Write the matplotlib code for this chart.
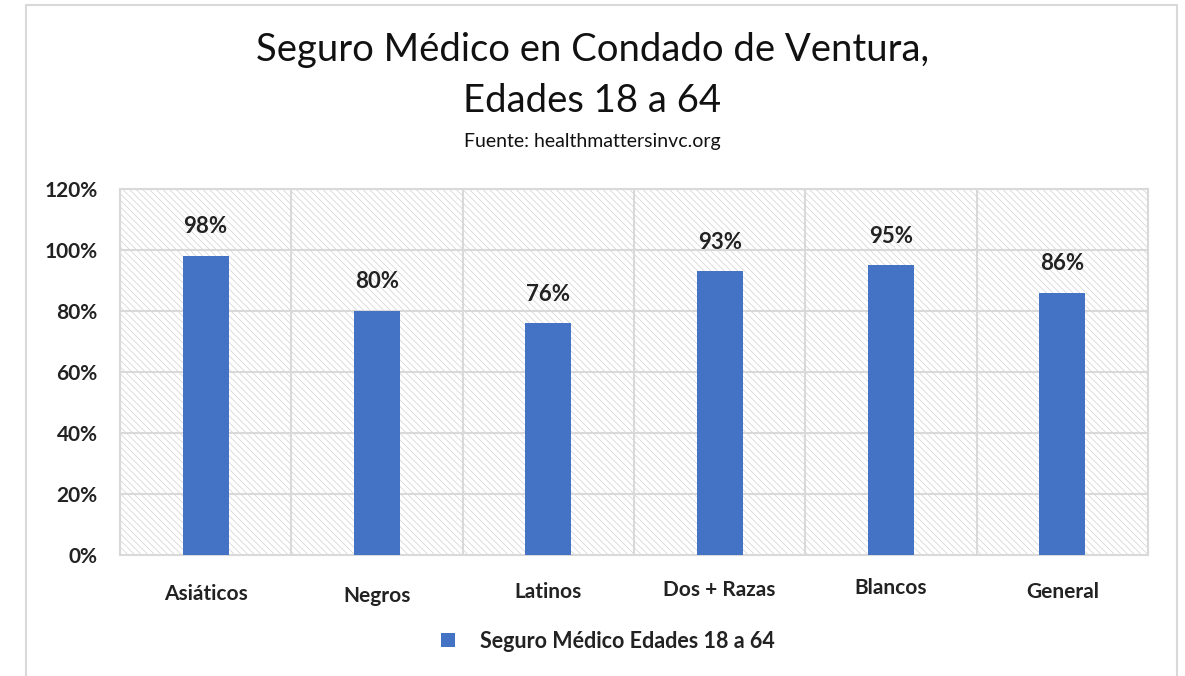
import matplotlib.pyplot as plt
from matplotlib.patches import Rectangle
from matplotlib.transforms import offset_copy

plt.rcParams['font.family'] = ['Lato', 'DejaVu Sans']
plt.rcParams['hatch.linewidth'] = 0.5

categorias = ['Asiáticos', 'Negros', 'Latinos', 'Dos + Razas', 'Blancos', 'General']
valores = [98, 80, 76, 93, 95, 86]
serie = 'Seguro Médico Edades 18 a 64'
# the original labels sit at slightly different heights (pixels)
desfase = [0, -2, 2, 4, 6, 2]

azul = '#4472C4'
gris = '#d9d9d9'
texto = '#222222'

fig = plt.figure(figsize=(11.85, 6.76), dpi=100)
fig.patches.append(Rectangle((26 / 1185, -0.1), 1151 / 1185, 1.1 - 5 / 676,
                             transform=fig.transFigure, fill=False,
                             edgecolor=gris, lw=1.5))

ax = fig.add_axes([120 / 1185, 1 - 555 / 676, 1028 / 1185, 366 / 676])

fondo = Rectangle((0, 0), 1, 1, transform=ax.transAxes, facecolor='white',
                  edgecolor='#d2d2d2', hatch='\\\\\\\\\\', lw=0, zorder=0)
ax.add_patch(fondo)

x = list(range(len(categorias)))
ax.bar(x, valores, width=0.27, color=azul, zorder=3)

ax.set_xlim(-0.5, len(categorias) - 0.5)
ax.set_ylim(0, 120)
ax.set_yticks(range(0, 121, 20))
ax.set_yticklabels([f'{v}%' for v in range(0, 121, 20)], fontsize=15,
                   fontweight='bold', color=texto)
ax.tick_params(axis='y', length=0, pad=16)
ax.set_xticks([])

for y in range(20, 121, 20):
    ax.axhline(y, color=gris, lw=1.5, zorder=1)
for i in range(len(categorias) + 1):
    ax.axvline(i - 0.5, color=gris, lw=1.5, zorder=1)
for s in ax.spines.values():
    s.set_color(gris)
    s.set_linewidth(1.5)

for xi, v in zip(x, valores):
    ax.annotate(f'{v}%', (xi, v), xytext=(0, 21), textcoords='offset points',
                ha='center', va='center', fontsize=16, fontweight='bold',
                color=texto)

for xi, nombre, d in zip(x, categorias, desfase):
    tr = offset_copy(ax.get_xaxis_transform(), fig=fig, x=0, y=d * 0.72,
                     units='points')
    ax.text(xi, -39 / 366, nombre, transform=tr, ha='center', va='center',
            fontsize=15, fontweight='bold', color=texto)

fig.text(0.5, 1 - 50 / 676, 'Seguro Médico en Condado de Ventura,',
         ha='center', va='center', fontsize=27.5, color='#111111')
fig.text(0.5, 1 - 101 / 676, 'Edades 18 a 64',
         ha='center', va='center', fontsize=27.5, color='#111111')
fig.text(0.5, 1 - 142 / 676, 'Fuente: healthmattersinvc.org',
         ha='center', va='center', fontsize=14, color='#111111')

fig.patches.append(Rectangle((441 / 1185, 1 - 647 / 676), 14 / 1185, 14 / 676,
                             transform=fig.transFigure, facecolor=azul,
                             edgecolor='none'))
fig.text(480 / 1185, 1 - 641 / 676, serie, ha='left', va='center',
         fontsize=15.5, fontweight='bold', color=texto)

fig.savefig('out.png', dpi=100)
